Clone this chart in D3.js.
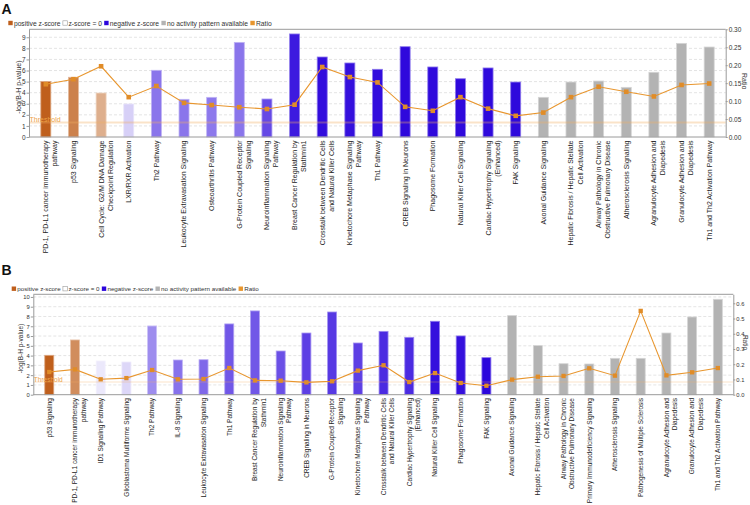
<!DOCTYPE html>
<html>
<head>
<meta charset="utf-8">
<script src="https://cdn.jsdelivr.net/npm/d3@7"></script>
<style>
  body { margin: 0; background: #fff; }
  svg { display: block; font-family: "Liberation Sans", Arial, sans-serif; }
</style>
</head>
<body>
<svg width="750" height="505"></svg>
<script>
// ---- panel A data ----
var catsA = [
  "PD-1, PD-L1 cancer immunotherapy\npathway", "p53 Signaling",
  "Cell Cycle: G2/M DNA Damage\nCheckpoint Regulation", "LXR/RXR Activation",
  "Th2 Pathway", "Leukocyte Extravasation Signaling", "Osteoarthritis Pathway",
  "G-Protein Coupled Receptor\nSignaling", "Neuroinflammation Signaling\nPathway",
  "Breast Cancer Regulation by\nStathmin1", "Crosstalk between Dendritic Cells\nand Natural Killer Cells",
  "Kinetochore Metaphase Signaling\nPathway", "Th1 Pathway", "CREB Signaling in Neurons",
  "Phagosome Formation", "Natural Killer Cell Signaling",
  "Cardiac Hypertrophy Signaling\n(Enhanced)", "FAK Signaling", "Axonal Guidance Signaling",
  "Hepatic Fibrosis / Hepatic Stellate\nCell Activation",
  "Airway Pathology in Chronic\nObstructive Pulmonary Disease", "Atherosclerosis Signaling",
  "Agranulocyte Adhesion and\nDiapedesis", "Granulocyte Adhesion and\nDiapedesis",
  "Th1 and Th2 Activation Pathway"
];
var logpA = [5.0, 5.39, 3.97, 2.98, 6.02, 3.40, 3.58, 8.54, 3.43, 9.30, 7.22, 6.68, 6.11,
             8.15, 6.32, 5.26, 6.23, 4.96, 3.58, 4.96, 5.05, 4.48, 5.84, 8.45, 8.12];
var ratioA = [0.147, 0.161, 0.197, 0.111, 0.142, 0.095, 0.089, 0.083, 0.078, 0.090, 0.195, 0.167, 0.152,
              0.084, 0.073, 0.111, 0.079, 0.059, 0.068, 0.111, 0.140, 0.126, 0.113, 0.145, 0.149];
var zA = [2.5, 1.9, 1.1, -0.5, -1.85, -1.85, -1.8, -1.85, -2.5, -3.2, -3.4, -3.35, -3.4,
          -3.45, -3.45, -3.45, -3.45, -3.45, null, null, null, null, null, null, null];
var leftTicksA = [0, 1, 2, 3, 4, 5, 6, 7, 8, 9];
var rightTicksA = [0, 0.05, 0.10, 0.15, 0.20, 0.25, 0.30];

// ---- panel B data ----
var catsB = [
  "p53 Signaling", "PD-1, PD-L1 cancer immunotherapy\npathway", "ID1 Signaling Pathway",
  "Glioblastoma Multiforme Signaling", "Th2 Pathway", "IL-8 Signaling",
  "Leukocyte Extravasation Signaling", "Th1 Pathway", "Breast Cancer Regulation by\nStathmin1",
  "Neuroinflammation Signaling\nPathway", "CREB Signaling in Neurons",
  "G-Protein Coupled Receptor\nSignaling", "Kinetochore Metaphase Signaling\nPathway",
  "Crosstalk between Dendritic Cells\nand Natural Killer Cells",
  "Cardiac Hypertrophy Signaling\n(Enhanced)", "Natural Killer Cell Signaling",
  "Phagosome Formation", "FAK Signaling", "Axonal Guidance Signaling",
  "Hepatic Fibrosis / Hepatic Stellate\nCell Activation",
  "Airway Pathology in Chronic\nObstructive Pulmonary Disease",
  "Primary Immunodeficiency Signaling", "Atherosclerosis Signaling",
  "Pathogenesis of Multiple Sclerosis", "Agranulocyte Adhesion and\nDiapedesis",
  "Granulocyte Adhesion and\nDiapedesis", "Th1 and Th2 Activation Pathway"
];
var logpB = [4.03, 5.60, 3.45, 3.34, 7.03, 3.55, 3.58, 7.24, 8.57, 4.47, 6.31, 8.46, 5.29, 6.48,
             5.87, 7.51, 6.01, 3.79, 8.09, 5.02, 3.17, 3.14, 3.72, 3.72, 6.31, 7.95, 9.76];
var ratioB = [0.149, 0.166, 0.101, 0.109, 0.162, 0.101, 0.103, 0.175, 0.094, 0.092, 0.081, 0.088,
              0.158, 0.193, 0.083, 0.142, 0.077, 0.059, 0.099, 0.118, 0.123, 0.173, 0.125, 0.550,
              0.127, 0.147, 0.175];
var zB = [2.5, 1.7, -0.15, -0.4, -1.5, -1.9, -2.05, -2.3, -2.3, -2.4, -2.65, -2.75, -2.65, -2.95,
          -2.95, -3.35, -3.35, -3.5, null, null, null, null, null, null, null, null, null];
var leftTicksB = [0, 1, 2, 3, 4, 5, 6, 7, 8, 9, 10];
var rightTicksB = [0, 0.1, 0.2, 0.3, 0.4, 0.5, 0.6];

var threshold = 1.3;
var legendItems = ["positive z-score", "z-score = 0", "negative z-score", "no activity pattern available", "Ratio"];

var svg = d3.select("svg");

var posColor = d3.scaleLinear().domain([0, 2.5]).range(["#f6eee6", "#bf5f1c"]).clamp(true);
var negColor = d3.scaleLinear().domain([-3.5, 0]).range(["#2c06dc", "#f4f2fc"]).clamp(true);
function zColor(z) {
  if (z == null) return "#b3b3b3";
  return z >= 0 ? posColor(z) : negColor(z);
}
var lineColor = "#e8962e";

function drawPanel(p) {
  var g = svg.append("g");
  var fs = p.fs;

  g.append("text")
    .attr("x", 1.5).attr("y", p.letterY)
    .attr("font-size", 14).attr("font-weight", "bold")
    .attr("fill", "#111")
    .text(p.letter);

  // legend
  var swatch = ["#bf5f1c", "#fff", "#2c06dc", "#b3b3b3", lineColor];
  var lx = p.legendX;
  legendItems.forEach(function (t, i) {
    g.append("rect")
      .attr("x", lx).attr("y", p.legendY - 2.2)
      .attr("width", 4.4).attr("height", 4.4)
      .attr("fill", swatch[i])
      .attr("stroke", i == 1 ? "#999" : "none").attr("stroke-width", 0.6);
    var txt = g.append("text")
      .attr("x", lx + 5.6).attr("y", p.legendY + fs * 0.36)
      .attr("font-size", fs * 0.96).attr("fill", "#333")
      .text(t);
    lx += 5.6 + txt.node().getComputedTextLength() + 2.3;
  });

  var x = d3.scaleBand().domain(d3.range(p.cats.length)).range([p.x0, p.x1]);
  var cx = function (i) { return x(i) + x.bandwidth() / 2; };
  var y = d3.scaleLinear().domain([0, p.yMax]).range([p.bottom, p.top]);
  var y2 = d3.scaleLinear().domain([0, p.rMax]).range([p.bottom, p.top]);

  // grid
  g.append("g").selectAll("line")
    .data(p.leftTicks.filter(function (d) { return d > 0; }))
    .join("line")
    .attr("x1", p.left).attr("x2", p.right)
    .attr("y1", function (d) { return y(d); }).attr("y2", function (d) { return y(d); })
    .attr("stroke", "#d9d9d9").attr("stroke-width", 0.7)
    .attr("stroke-dasharray", "3,2");

  // bars
  g.append("g").selectAll("rect")
    .data(p.logp)
    .join("rect")
    .attr("x", function (d, i) { return cx(i) - p.bw / 2; })
    .attr("y", function (d) { return y(d); })
    .attr("width", p.bw)
    .attr("height", function (d) { return p.bottom - y(d); })
    .attr("fill", function (d, i) { return zColor(p.z[i]); })
    .attr("stroke", function (d, i) { return d3.interpolateRgb(zColor(p.z[i]), "#fff")(0.45); })
    .attr("stroke-width", 0.8);

  // threshold
  g.append("line")
    .attr("x1", p.left).attr("x2", p.right)
    .attr("y1", y(threshold)).attr("y2", y(threshold))
    .attr("stroke", "#f0b060").attr("stroke-opacity", 0.35)
    .attr("stroke-width", p.thW);
  g.append("text")
    .attr("x", p.left + 0.5).attr("y", y(threshold) - 0.3)
    .attr("font-size", fs).attr("fill", "#eca246")
    .text("Threshold");

  // ratio line
  var line = d3.line()
    .x(function (d, i) { return cx(i); })
    .y(function (d) { return y2(d); });
  g.append("path")
    .datum(p.ratio)
    .attr("fill", "none")
    .attr("stroke", lineColor)
    .attr("stroke-width", 1.1)
    .attr("d", line);
  g.append("g").selectAll("rect")
    .data(p.ratio)
    .join("rect")
    .attr("x", function (d, i) { return cx(i) - p.sq / 2; })
    .attr("y", function (d) { return y2(d) - p.sq / 2; })
    .attr("width", p.sq).attr("height", p.sq)
    .attr("fill", "#e08c28");

  // axes
  var ax = g.append("g")
    .attr("transform", "translate(" + p.left + ",0)")
    .call(d3.axisLeft(y).tickValues(p.leftTicks).tickFormat(d3.format("d"))
      .tickSize(2.5).tickSizeOuter(0).tickPadding(1));
  var ax2 = g.append("g")
    .attr("transform", "translate(" + p.right + ",0)")
    .call(d3.axisRight(y2).tickValues(p.rightTicks).tickFormat(d3.format(p.rFmt))
      .tickSize(2).tickSizeOuter(0).tickPadding(1));
  [ax, ax2].forEach(function (a) {
    a.attr("font-family", null).attr("font-size", p.tickFs);
    a.selectAll("path, line").attr("stroke", "#9a9a9a");
    a.selectAll("text").attr("fill", "#333");
  });
  [p.top, p.bottom].forEach(function (yy) {
    g.append("line")
      .attr("x1", p.left).attr("x2", p.right)
      .attr("y1", yy).attr("y2", yy)
      .attr("stroke", "#9a9a9a").attr("stroke-width", 1);
  });

  // axis titles
  g.append("text")
    .attr("transform", "translate(" + p.yTitleX + "," + ((p.top + p.bottom) / 2 + 4) + ") rotate(-90)")
    .attr("dy", "0.35em")
    .attr("text-anchor", "middle")
    .attr("font-size", fs).attr("fill", "#333")
    .text("-log(B-H p-value)");
  g.append("text")
    .attr("transform", "translate(" + p.rTitleX + "," + ((p.top + p.bottom) / 2 - 2) + ") rotate(90)")
    .attr("dy", "0.35em")
    .attr("text-anchor", "middle")
    .attr("font-size", fs).attr("fill", "#333")
    .text("Ratio");

  // category labels
  g.append("g").selectAll("text")
    .data(p.cats)
    .join("text")
    .attr("transform", function (d, i) {
      return "translate(" + cx(i) + "," + p.labelTop + ") rotate(-90)";
    })
    .attr("text-anchor", "end")
    .attr("font-size", fs).attr("fill", "#222")
    .each(function (d) {
      var t = d3.select(this);
      d.split("\n").forEach(function (s, k) {
        t.append("tspan").attr("x", 0)
          .attr("dy", k == 0 ? "0.35em" : "1.3em")
          .text(s);
      });
    });
}

drawPanel({
  letter: "A", letterY: 13.5, legendX: 8.3, legendY: 23,
  cats: catsA, logp: logpA, ratio: ratioA, z: zA,
  leftTicks: leftTicksA, rightTicks: rightTicksA, rFmt: ".2f",
  x0: 32, x1: 723, left: 29, right: 725.7, top: 29.3, bottom: 137,
  yMax: 9.72, rMax: 0.30, bw: 10, sq: 4.6, fs: 7, tickFs: 6.5, thW: 2,
  labelTop: 140.5, yTitleX: 18.5, rTitleX: 744
});

drawPanel({
  letter: "B", letterY: 275, legendX: 11.7, legendY: 288.7,
  cats: catsB, logp: logpB, ratio: ratioB, z: zB,
  leftTicks: leftTicksB, rightTicks: rightTicksB, rFmt: ".1f",
  x0: 36.4, x1: 730.7, left: 33.3, right: 733.3, top: 294.3, bottom: 394.7,
  yMax: 10.27, rMax: 0.659, bw: 9, sq: 4.3, fs: 6.5, tickFs: 5.8, thW: 1.2,
  labelTop: 398, yTitleX: 20.5, rTitleX: 745
});
</script>
</body>
</html>
